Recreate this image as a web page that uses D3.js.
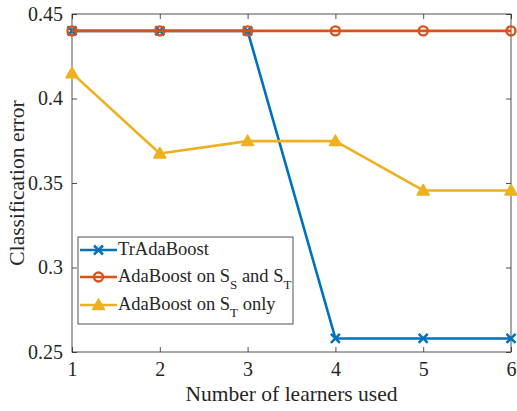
<!DOCTYPE html>
<html>
<head>
<meta charset="utf-8">
<script src="https://cdn.jsdelivr.net/npm/d3@7"></script>
<style>
  html, body { margin: 0; padding: 0; background: #fff; }
  svg { display: block; }
</style>
</head>
<body>
<svg id="chart" width="517" height="411" font-family="Liberation Serif"></svg>
<script>
// Learner counts on the x axis
const learners = [1, 2, 3, 4, 5, 6];
// Classification error per method
const trAdaBoost = [0.44, 0.44, 0.44, 0.258, 0.258, 0.258];
const adaBoostBoth = [0.44, 0.44, 0.44, 0.44, 0.44, 0.44];
const adaBoostTargetOnly = [0.415, 0.3675, 0.3748, 0.3748, 0.3456, 0.3456];
// Axis ticks
const xTicks = [1, 2, 3, 4, 5, 6];
const yTicks = [0.25, 0.3, 0.35, 0.4, 0.45];

const FONT = "Liberation Serif";
const svg = d3.select("#chart");
const m = { left: 72, right: 6, top: 14, bottom: 59 };
const W = 517, H = 411;
const x = d3.scaleLinear().domain([1, 6]).range([m.left, W - m.right]);
const y = d3.scaleLinear().domain([0.25, 0.45]).range([H - m.bottom, m.top]);

const axisColor = "#262626";
const tickLen = 5;

// Box frame
svg.append("rect")
  .attr("x", x(1)).attr("y", y(0.45))
  .attr("width", x(6) - x(1)).attr("height", y(0.25) - y(0.45))
  .attr("fill", "none").attr("stroke", axisColor).attr("stroke-width", 0.8);

// Axes with inward ticks on all four sides
const fmtY = d => (d === 0.3 ? "0.3" : d === 0.4 ? "0.4" : d3.format(".2f")(d));
const xb = svg.append("g").attr("transform", `translate(0,${y(0.25)})`)
  .call(d3.axisBottom(x).tickValues(xTicks).tickSize(-tickLen).tickPadding(10).tickFormat(d3.format("d")));
const xt = svg.append("g").attr("transform", `translate(0,${y(0.45)})`)
  .call(d3.axisTop(x).tickValues(xTicks).tickSize(-tickLen).tickFormat(""));
const yl = svg.append("g").attr("transform", `translate(${x(1)},0)`)
  .call(d3.axisLeft(y).tickValues(yTicks).tickSize(-tickLen).tickPadding(9).tickFormat(fmtY));
const yr = svg.append("g").attr("transform", `translate(${x(6)},0)`)
  .call(d3.axisRight(y).tickValues(yTicks).tickSize(-tickLen).tickFormat(""));
[xb, xt, yl, yr].forEach(g => {
  g.attr("font-family", FONT).attr("font-size", 20);
  g.select(".domain").remove();
  g.selectAll(".tick line").attr("stroke", axisColor).attr("stroke-width", 0.8);
  g.selectAll("text").attr("fill", axisColor);
});

// Axis titles
svg.append("text")
  .attr("x", (x(1) + x(6)) / 2).attr("y", 401)
  .attr("text-anchor", "middle").attr("fill", axisColor)
  .attr("font-family", FONT).attr("font-size", 21.5).text("Number of learners used");
svg.append("text")
  .attr("transform", `translate(24,${(y(0.25) + y(0.45)) / 2}) rotate(-90)`)
  .attr("text-anchor", "middle").attr("fill", axisColor)
  .attr("font-family", FONT).attr("font-size", 21.5).text("Classification error");

const series = [
  { name: "tr", values: trAdaBoost, color: "#0072BD", marker: "x" },
  { name: "both", values: adaBoostBoth, color: "#D95319", marker: "o" },
  { name: "target", values: adaBoostTargetOnly, color: "#EDB120", marker: "^" }
];

function drawMarker(g, type, cx, cy, color) {
  if (type === "x") {
    const s = 4.5;
    g.append("path")
      .attr("d", `M${cx - s},${cy - s}L${cx + s},${cy + s}M${cx - s},${cy + s}L${cx + s},${cy - s}`)
      .attr("stroke", color).attr("stroke-width", 2.5).attr("fill", "none");
  } else if (type === "o") {
    g.append("circle").attr("cx", cx).attr("cy", cy).attr("r", 4.5)
      .attr("fill", "none").attr("stroke", color).attr("stroke-width", 2.4);
  } else {
    const s = 6;
    g.append("path")
      .attr("d", `M${cx},${cy - s}L${cx + s},${cy + s * 0.75}L${cx - s},${cy + s * 0.75}Z`)
      .attr("fill", color).attr("stroke", color).attr("stroke-width", 1.5).attr("stroke-linejoin", "round");
  }
}

const line = d3.line().x((d, i) => x(learners[i])).y(d => y(d));
series.forEach(s => {
  const g = svg.append("g");
  g.append("path").datum(s.values).attr("d", line)
    .attr("fill", "none").attr("stroke", s.color).attr("stroke-width", 2.6)
    .attr("stroke-linejoin", "round");
  s.values.forEach((v, i) => drawMarker(g, s.marker, x(learners[i]), y(v), s.color));
});

// Legend
const lg = svg.append("g");
lg.append("rect").attr("x", 78).attr("y", 237).attr("width", 215).attr("height", 87)
  .attr("fill", "#fff").attr("stroke", axisColor).attr("stroke-width", 0.8);
const rows = [
  { s: series[0], y: 250, parts: [["TrAdaBoost", null]] },
  { s: series[1], y: 277, parts: [["AdaBoost on S", null], ["S", "sub"], [" and S", null], ["T", "sub"]] },
  { s: series[2], y: 305, parts: [["AdaBoost on S", null], ["T", "sub"], [" only", null]] }
];
rows.forEach(r => {
  lg.append("line").attr("x1", 80).attr("x2", 117).attr("y1", r.y).attr("y2", r.y)
    .attr("stroke", r.s.color).attr("stroke-width", 2.6);
  drawMarker(lg, r.s.marker, 98.5, r.y, r.s.color);
  const t = lg.append("text").attr("x", 118).attr("y", r.y + 5)
    .attr("fill", axisColor).attr("font-family", FONT).attr("font-size", 18.5);
  let sub = false;
  r.parts.forEach(([txt, kind]) => {
    const ts = t.append("tspan").text(txt);
    if (kind === "sub" && !sub) { ts.attr("dy", 7).attr("font-size", 13); sub = true; }
    else if (kind === "sub" && sub) { ts.attr("font-size", 13); }
    else if (kind !== "sub" && sub) { ts.attr("dy", -7); sub = false; }
  });
});
</script>
</body>
</html>
